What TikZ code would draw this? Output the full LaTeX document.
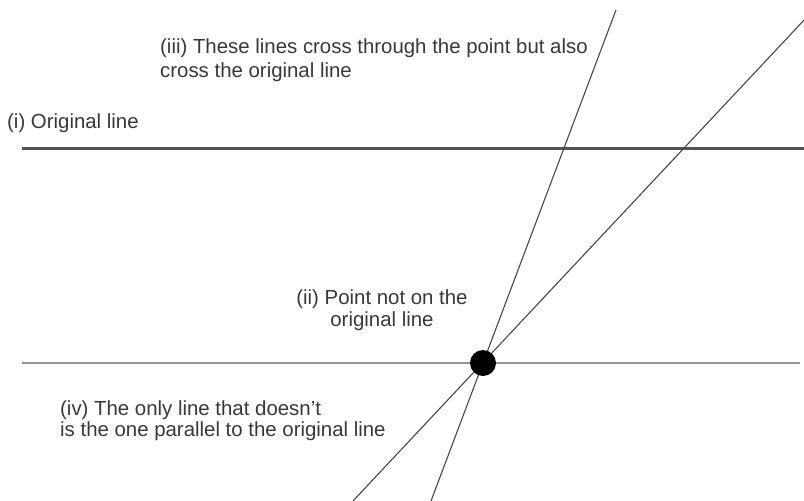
\documentclass[tikz,border=0pt]{standalone}
\usepackage{fontspec}
\setmainfont{Liberation Sans}
\begin{document}
\begin{tikzpicture}[x=1pt,y=-1pt,
  lbl/.style={inner sep=0pt,text=black!78,font=\fontsize{20.4}{24}\selectfont},
  orig/.style={draw=black!68,line width=3pt},
  para/.style={draw=black!42,line width=1.8pt},
  cross/.style={draw=black!72,line width=1.1pt}]
\useasboundingbox (0,0) rectangle (804,501);
% coordinates
\coordinate (O1) at (22,148);
\coordinate (O2) at (804,148);
\coordinate (L1) at (22,363);
\coordinate (L2) at (800,363);
\coordinate (A1) at (616,10);
\coordinate (A2) at (431,501);
\coordinate (B1) at (806,18);
\coordinate (B2) at (353,501);
% lines
\draw[orig] (O1) -- (O2);
\draw[para] (L1) -- (L2);
\draw[cross] (A1) -- (A2);
\draw[cross] (B1) -- (B2);
\node[circle,fill=black,inner sep=0pt,minimum size=26pt] (P) at (483,363) {};
% labels (base anchor = baseline of the last line)
\node[lbl,anchor=base west] (ti) at (7,128) {(i) Original line};
\node[lbl,anchor=base west,align=left] (tiii) at (160,77) {(iii) These lines cross through the point but also\\cross the original line};
\node[lbl,anchor=base,align=center,font=\fontsize{20.4}{22}\selectfont] (tii) at (382,326) {(ii) Point not on the\\original line};
\node[lbl,anchor=base west,align=left,font=\fontsize{20.4}{21}\selectfont] (tiv) at (60,436) {(iv) The only line that doesn\char"27 t\\is the one parallel to the original line};
\end{tikzpicture}
\end{document}
